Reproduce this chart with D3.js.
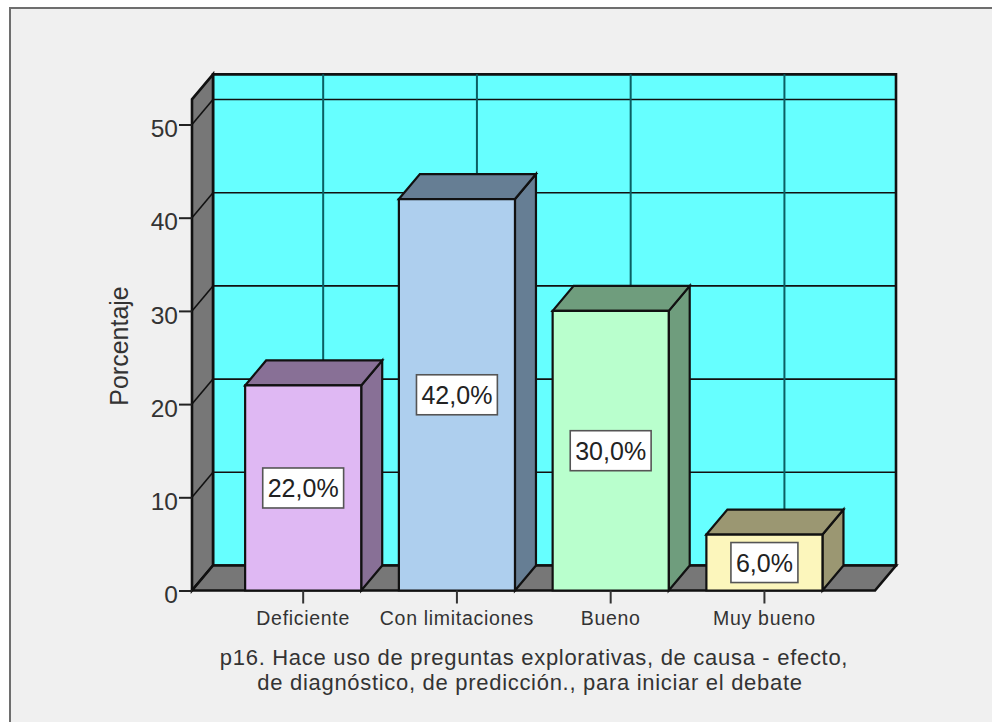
<!DOCTYPE html>
<html><head><meta charset="utf-8">
<script src="https://cdn.jsdelivr.net/npm/d3@7"></script>
<style>html,body{margin:0;padding:0;background:#fff}svg{display:block;font-family:"Liberation Sans",Arial,sans-serif}</style>
</head><body><svg id="c" width="992" height="722"></svg>
<script>
const categories = ["Deficiente","Con limitaciones","Bueno","Muy bueno"];
const values = [22,42,30,6];
const valueLabels = ["22,0%","42,0%","30,0%","6,0%"];
const frontColors = ["#dfb8f3","#aecfee","#b9ffcd","#fcf6bc"];
const sideColors = ["#887096","#667e94","#6f9d7d","#9b9772"];
const yTicks = [0,10,20,30,40,50];
const yMax = 52.7;
const yTitle = "Porcentaje";
const xTitleLines = ["p16. Hace uso de preguntas explorativas, de causa - efecto,","de diagnóstico, de predicción., para iniciar el debate"];

const svg = d3.select("#c");
const dx = 21, dy = -25;
const x0 = 192, x1 = 875;
const y = d3.scaleLinear().domain([0,50]).range([590.5,124.5]);
const x = d3.scaleBand().domain(categories).range([226.3,841.3]).paddingInner(0.245).paddingOuter(0.1225);
const line = "#111", ink = "#333";
const poly = (pts,fill,sw=2.2,stroke=line)=>svg.append("polygon").attr("points",pts.map(p=>p.join(",")).join(" ")).attr("fill",fill).attr("stroke",stroke).attr("stroke-width",sw).attr("stroke-linejoin","miter");

// frame
svg.append("rect").attr("x",10).attr("y",8).attr("width",1000).attr("height",730).attr("fill","#f0f0f0").attr("stroke","#6e6e6e").attr("stroke-width",2);

const yTop = y(yMax);
// walls
poly([[x0+dx,y(0)+dy],[x1+dx,y(0)+dy],[x1+dx,yTop+dy],[x0+dx,yTop+dy]],"#66ffff",2.6);
poly([[x0,y(0)],[x0+dx,y(0)+dy],[x0+dx,yTop+dy],[x0,yTop]],"#777",2.6);
poly([[x0,y(0)],[x1,y(0)],[x1+dx,y(0)+dy],[x0+dx,y(0)+dy]],"#777",2.6);

// grid
const grid = svg.append("g");
yTicks.forEach(t=>{
  grid.append("line").attr("x1",x0).attr("y1",y(t)).attr("x2",x0+dx).attr("y2",y(t)+dy).attr("stroke",line).attr("stroke-width",1.6);
  if(t>0) grid.append("line").attr("x1",x0+dx).attr("y1",y(t)+dy).attr("x2",x1+dx).attr("y2",y(t)+dy).attr("stroke",line).attr("stroke-width",1.6);
});
categories.forEach(c=>{
  const gx = x(c)+x.bandwidth()/2+dx-1;
  grid.append("line").attr("x1",gx).attr("y1",yTop+dy).attr("x2",gx).attr("y2",y(0)+dy).attr("stroke","#0b5f63").attr("stroke-width",2);
});

// bars
categories.forEach((c,i)=>{
  const l=x(c), r=l+x.bandwidth(), t=y(values[i]), b=y(0);
  poly([[r,b],[r+dx,b+dy],[r+dx,t+dy],[r,t]],sideColors[i]);
  poly([[l,t],[l+dx,t+dy],[r+dx,t+dy],[r,t]],sideColors[i]);
  poly([[l,b],[r,b],[r,t],[l,t]],frontColors[i]);
});

// axes
const ay = svg.append("g").attr("transform",`translate(${x0},0)`).call(d3.axisLeft(y).tickValues(yTicks).tickSize(13).tickPadding(1));
ay.select(".domain").remove();
ay.selectAll("line").attr("stroke","#222").attr("stroke-width",2);
ay.selectAll("text").attr("font-size",24.5).attr("fill",ink).attr("dy","0.5em");
const ax = svg.append("g").attr("transform",`translate(0,${y(0)})`).call(d3.axisBottom(x).tickSize(13).tickPadding(8));
ax.select(".domain").remove();
ax.selectAll("line").attr("stroke","#333").attr("stroke-width",2);
ax.selectAll("text").attr("font-size",19.5).attr("fill",ink).attr("letter-spacing",0.7);

// value labels
categories.forEach((c,i)=>{
  const cx = x(c)+x.bandwidth()/2, cy = y(values[i]/2);
  const g = svg.append("g");
  const r = g.append("rect");
  const t = g.append("text").attr("x",cx).attr("y",cy).attr("dy","0.38em").attr("text-anchor","middle").attr("font-size",25).attr("fill","#222").text(valueLabels[i]);
  const w = t.node().getComputedTextLength()+10;
  r.attr("x",cx-w/2).attr("y",cy-20).attr("width",w).attr("height",40).attr("fill","#fff").attr("stroke","#555").attr("stroke-width",1.6);
});

// titles
svg.append("text").attr("transform","translate(128,346) rotate(-90)").attr("text-anchor","middle").attr("font-size",25).attr("fill",ink).text(yTitle);
xTitleLines.forEach((s,i)=>svg.append("text").attr("x",534-i*4).attr("y",665+i*25).attr("text-anchor","middle").attr("font-size",22).attr("letter-spacing",0.7).attr("fill",ink).text(s));
</script></body></html>
